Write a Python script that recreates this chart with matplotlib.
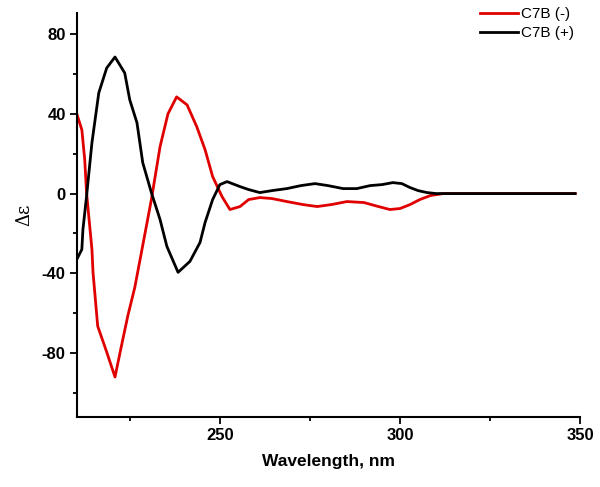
import matplotlib.pyplot as plt
from matplotlib.ticker import MultipleLocator

# CD spectra
wl_minus = [210.3, 211.7, 212.5, 213.0, 214.5, 214.8, 216.1, 218.6, 220.9, 222.5, 224.5, 226.4,
            228.6, 231.0, 233.4, 235.6, 238.0, 240.9, 243.6, 245.9, 248.0, 250.6, 252.8,
            255.6, 258.0, 261.1, 264.5, 268.6, 273.0, 277.0, 281.0, 285.3, 290.0, 294.0,
            297.2, 300.0, 302.8, 305.5, 308.4, 312.0, 320.0, 330.0, 340.0, 348.6]
de_minus = [40, 32, 17, 0.5, -28, -39.5, -66.5, -79.5, -92, -78, -61, -47,
            -26, -3, 23.5, 40, 48.5, 44.5, 33.5, 22, 8.5, -1.5, -8,
            -6.5, -3, -2, -2.5, -4, -5.5, -6.5, -5.5, -4, -4.5, -6.5,
            -8, -7.5, -5.5, -3, -1, 0, 0, 0, 0, 0]

wl_plus = [210.3, 211.7, 212.0, 213.0, 214.5, 216.4, 218.6, 220.9, 223.6, 225.0, 227.0,
           228.6, 231.0, 233.4, 235.3, 238.4, 241.7, 244.5, 245.9, 248.0, 250.0, 252.0,
           255.6, 258.0, 261.1, 264.5, 268.6, 272.5, 276.4, 280.0, 284.2, 288.0, 291.7,
           295.0, 298.0, 300.5, 302.8, 305.0, 307.5, 310.0, 320.0, 330.0, 340.0, 348.6]
de_plus = [-33, -28, -18, -1.5, 25.5, 50.5, 63, 68.5, 60.5, 47, 35.5,
           15.5, 0.5, -13, -26.5, -39.5, -34, -24.5, -14.5, -3, 4.5, 6,
           3.5, 2, 0.5, 1.5, 2.5, 4, 5, 4, 2.5, 2.5, 4,
           4.5, 5.5, 5, 3, 1.5, 0.5, 0, 0, 0, 0, 0]

plt.rcParams['font.family'] = ['Liberation Sans', 'DejaVu Sans']
plt.rcParams['axes.unicode_minus'] = False

fig = plt.figure(figsize=(6, 4.87), dpi=100)
ax = fig.add_axes([0.128, 0.144, 0.839, 0.829])

ax.plot(wl_minus, de_minus, color='#e00000', lw=2, label='C7B (-)')
ax.plot(wl_plus, de_plus, color='black', lw=2, label='C7B (+)')

ax.set_xlim(210.3, 350)
ax.set_ylim(-112, 90.5)
ax.xaxis.set_major_locator(MultipleLocator(50))
ax.xaxis.set_minor_locator(MultipleLocator(25))
ax.yaxis.set_major_locator(MultipleLocator(40))
ax.yaxis.set_minor_locator(MultipleLocator(20))
ax.tick_params(which='major', length=5, width=1.3, labelsize=12, pad=3)
ax.tick_params(which='minor', length=3, width=1.3)
for lbl in ax.get_xticklabels() + ax.get_yticklabels():
    lbl.set_fontweight('bold')
ax.spines['top'].set_visible(False)
ax.spines['right'].set_visible(False)
for s in ['left', 'bottom']:
    ax.spines[s].set_linewidth(1.5)

ax.set_xlabel('Wavelength, nm', fontsize=12.5, fontweight='bold', labelpad=8)
ax.set_ylabel('Δε', fontsize=13, family=['DejaVu Serif'], labelpad=6)

leg = ax.legend(loc='upper right', bbox_to_anchor=(1.0, 1.03), frameon=False,
                prop={'size': 11}, handlelength=2.5,
                handletextpad=0.2, labelspacing=0.35, borderaxespad=0)

fig.savefig('out.png', dpi=100)
